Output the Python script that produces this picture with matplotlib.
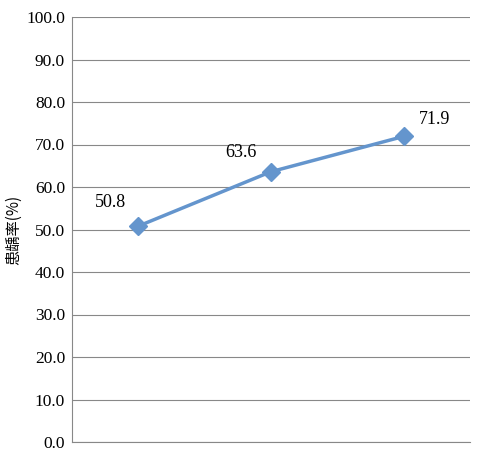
import matplotlib.pyplot as plt

groups = [1, 2, 3]
rates = [50.8, 63.6, 71.9]
yticks = [i * 10 for i in range(11)]

fig = plt.figure(figsize=(4.8, 4.7), dpi=100)
ax = fig.add_axes([72 / 480, 28 / 470, 398 / 480, 425 / 470])

ax.plot(groups, rates, color='#6495cd', linewidth=2.5, marker='D',
        markersize=9, markerfacecolor='#6495cd', markeredgecolor='#6495cd', zorder=3)

offsets = [(-20, 11), (-22, 8), (22, 6)]
for x, y, (dx, dy) in zip(groups, rates, offsets):
    ax.annotate(f"{y:.1f}", (x, y), xytext=(dx, dy), textcoords='offset points',
                ha='center', va='bottom', fontsize=13, family='Liberation Serif')

ax.set_xlim(0.5, 3.5)
ax.set_ylim(0, 100)
ax.set_yticks(yticks)
ax.set_yticklabels([f"{v:.1f}" for v in yticks], family='Liberation Serif', fontsize=12.5)
ax.set_xticks([])
ax.grid(axis='y', color='#888888', linewidth=0.8)
ax.set_axisbelow(True)
for side in ['top', 'right']:
    ax.spines[side].set_visible(False)
ax.spines['left'].set_color('#888888')
ax.spines['bottom'].set_color('#888888')
ax.tick_params(axis='y', length=0, pad=5)
ax.set_ylabel("患龋率(%)", family=['Noto Sans CJK SC', 'DejaVu Sans'], fontsize=11, labelpad=3)

fig.savefig('out.png', dpi=100)
